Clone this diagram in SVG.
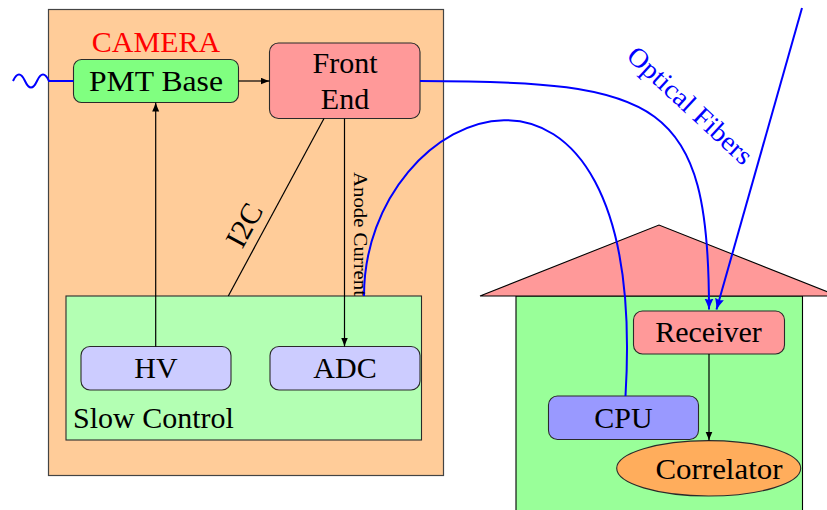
<svg xmlns="http://www.w3.org/2000/svg" width="827" height="510" viewBox="0 0 827 510" font-family="'Liberation Serif', 'DejaVu Serif', serif">
<style>
text{font-family:'Liberation Serif','DejaVu Serif',serif;fill:#000}
.lbl{font-size:30px;text-anchor:middle}
.box{stroke:#2a2a2a;stroke-width:1.1}
.k{fill:none;stroke:#000;stroke-width:1.2}
.b{fill:none;stroke:#0000ff;stroke-width:2}
</style>
<defs>
<marker id="ak" markerUnits="userSpaceOnUse" markerWidth="10" markerHeight="8" refX="9" refY="3.5" orient="auto">
<path d="M0,0 Q5,2.3 9,3.5 Q5,4.7 0,7 Z" fill="#000"/>
</marker>
<marker id="ab" markerUnits="userSpaceOnUse" markerWidth="12" markerHeight="10" refX="11" refY="4.5" orient="auto">
<path d="M0,0 Q6,3 11,4.5 Q6,6 0,9 L1.5,4.5 Z" fill="#0000ff"/>
</marker>
</defs>

<g id="camera">
<rect x="48.5" y="9.5" width="395" height="466" fill="#ffcc99" stroke="#444" stroke-width="1.2"/>
<text x="156" y="51.5" class="lbl" style="fill:#ff0000">CAMERA</text>
</g>

<g id="slow-control">
<rect x="66" y="296" width="355.5" height="144" fill="#b3ffb3" class="box"/>
<text x="73" y="428" style="font-size:30px">Slow Control</text>
</g>

<g id="pmt-base">
<rect x="73.5" y="59.5" width="165" height="43" rx="8" fill="#80ff80" class="box"/>
<text x="156" y="90.5" class="lbl" textLength="134" lengthAdjust="spacingAndGlyphs">PMT Base</text>
</g>

<g id="front-end">
<rect x="269.5" y="43" width="150.5" height="75.5" rx="9" fill="#ff9999" class="box"/>
<text x="345" y="73" class="lbl">Front</text>
<text x="345" y="109" class="lbl">End</text>
</g>

<g id="hv">
<rect x="81" y="346.5" width="150" height="43.5" rx="9" fill="#ccccff" class="box"/>
<text x="156" y="378" class="lbl">HV</text>
</g>

<g id="adc">
<rect x="270" y="346.5" width="150" height="43.5" rx="9" fill="#ccccff" class="box"/>
<text x="345" y="378" class="lbl">ADC</text>
</g>

<g id="house">
<rect x="516" y="296" width="286.5" height="220" fill="#99ff99" stroke="#000" stroke-width="1.1"/>
<polygon points="480,296 659,225 838,296" fill="#ff9999" stroke="#000" stroke-width="1.1" stroke-linejoin="miter"/>
</g>

<g id="receiver">
<rect x="633.5" y="311" width="151" height="43" rx="9" fill="#ff9999" class="box"/>
<text x="708.5" y="341.5" class="lbl">Receiver</text>
</g>

<g id="cpu">
<rect x="548.5" y="396" width="150" height="43.5" rx="9" fill="#9999ff" class="box"/>
<text x="623.5" y="427.5" class="lbl">CPU</text>
</g>

<g id="correlator">
<ellipse cx="708.7" cy="468.3" rx="92" ry="27.7" fill="#ffad5c" class="box"/>
<text x="719" y="479" class="lbl" textLength="127" lengthAdjust="spacingAndGlyphs">Correlator</text>
</g>

<g id="connectors">
<path class="b" d="M13,81 Q19,68 25,81 T37,81 T49,81 L73.5,81"/>
<path class="k" d="M238.5,81 L269.5,81" marker-end="url(#ak)"/>
<path class="k" d="M155.7,346.5 L155.7,102.5" marker-end="url(#ak)"/>
<path class="k" d="M344.5,118.5 L344.5,346.5" marker-end="url(#ak)"/>
<path class="k" d="M324,118.5 L228.3,296"/>
<path class="k" d="M709,354 L709,440.6" marker-end="url(#ak)"/>
<path class="b" d="M420,81 C660,81 709,100 709,309.5" marker-end="url(#ab)"/>
<path class="b" d="M802,8 L716.5,309.5" marker-end="url(#ab)"/>
<path class="b" d="M364,296 C364,100 650,-10 625.5,396"/>
</g>

<g id="connector-labels">
<text transform="translate(253,230) rotate(-61.5)" class="lbl">I2C</text>
<text transform="translate(353.5,234) rotate(90)" style="font-size:19.5px;text-anchor:middle" textLength="124" lengthAdjust="spacingAndGlyphs">Anode Current</text>
<text transform="translate(684,112) rotate(42.7)" style="font-size:27px;text-anchor:middle;fill:#0000ff" textLength="160" lengthAdjust="spacingAndGlyphs">Optical Fibers</text>
</g>
</svg>
